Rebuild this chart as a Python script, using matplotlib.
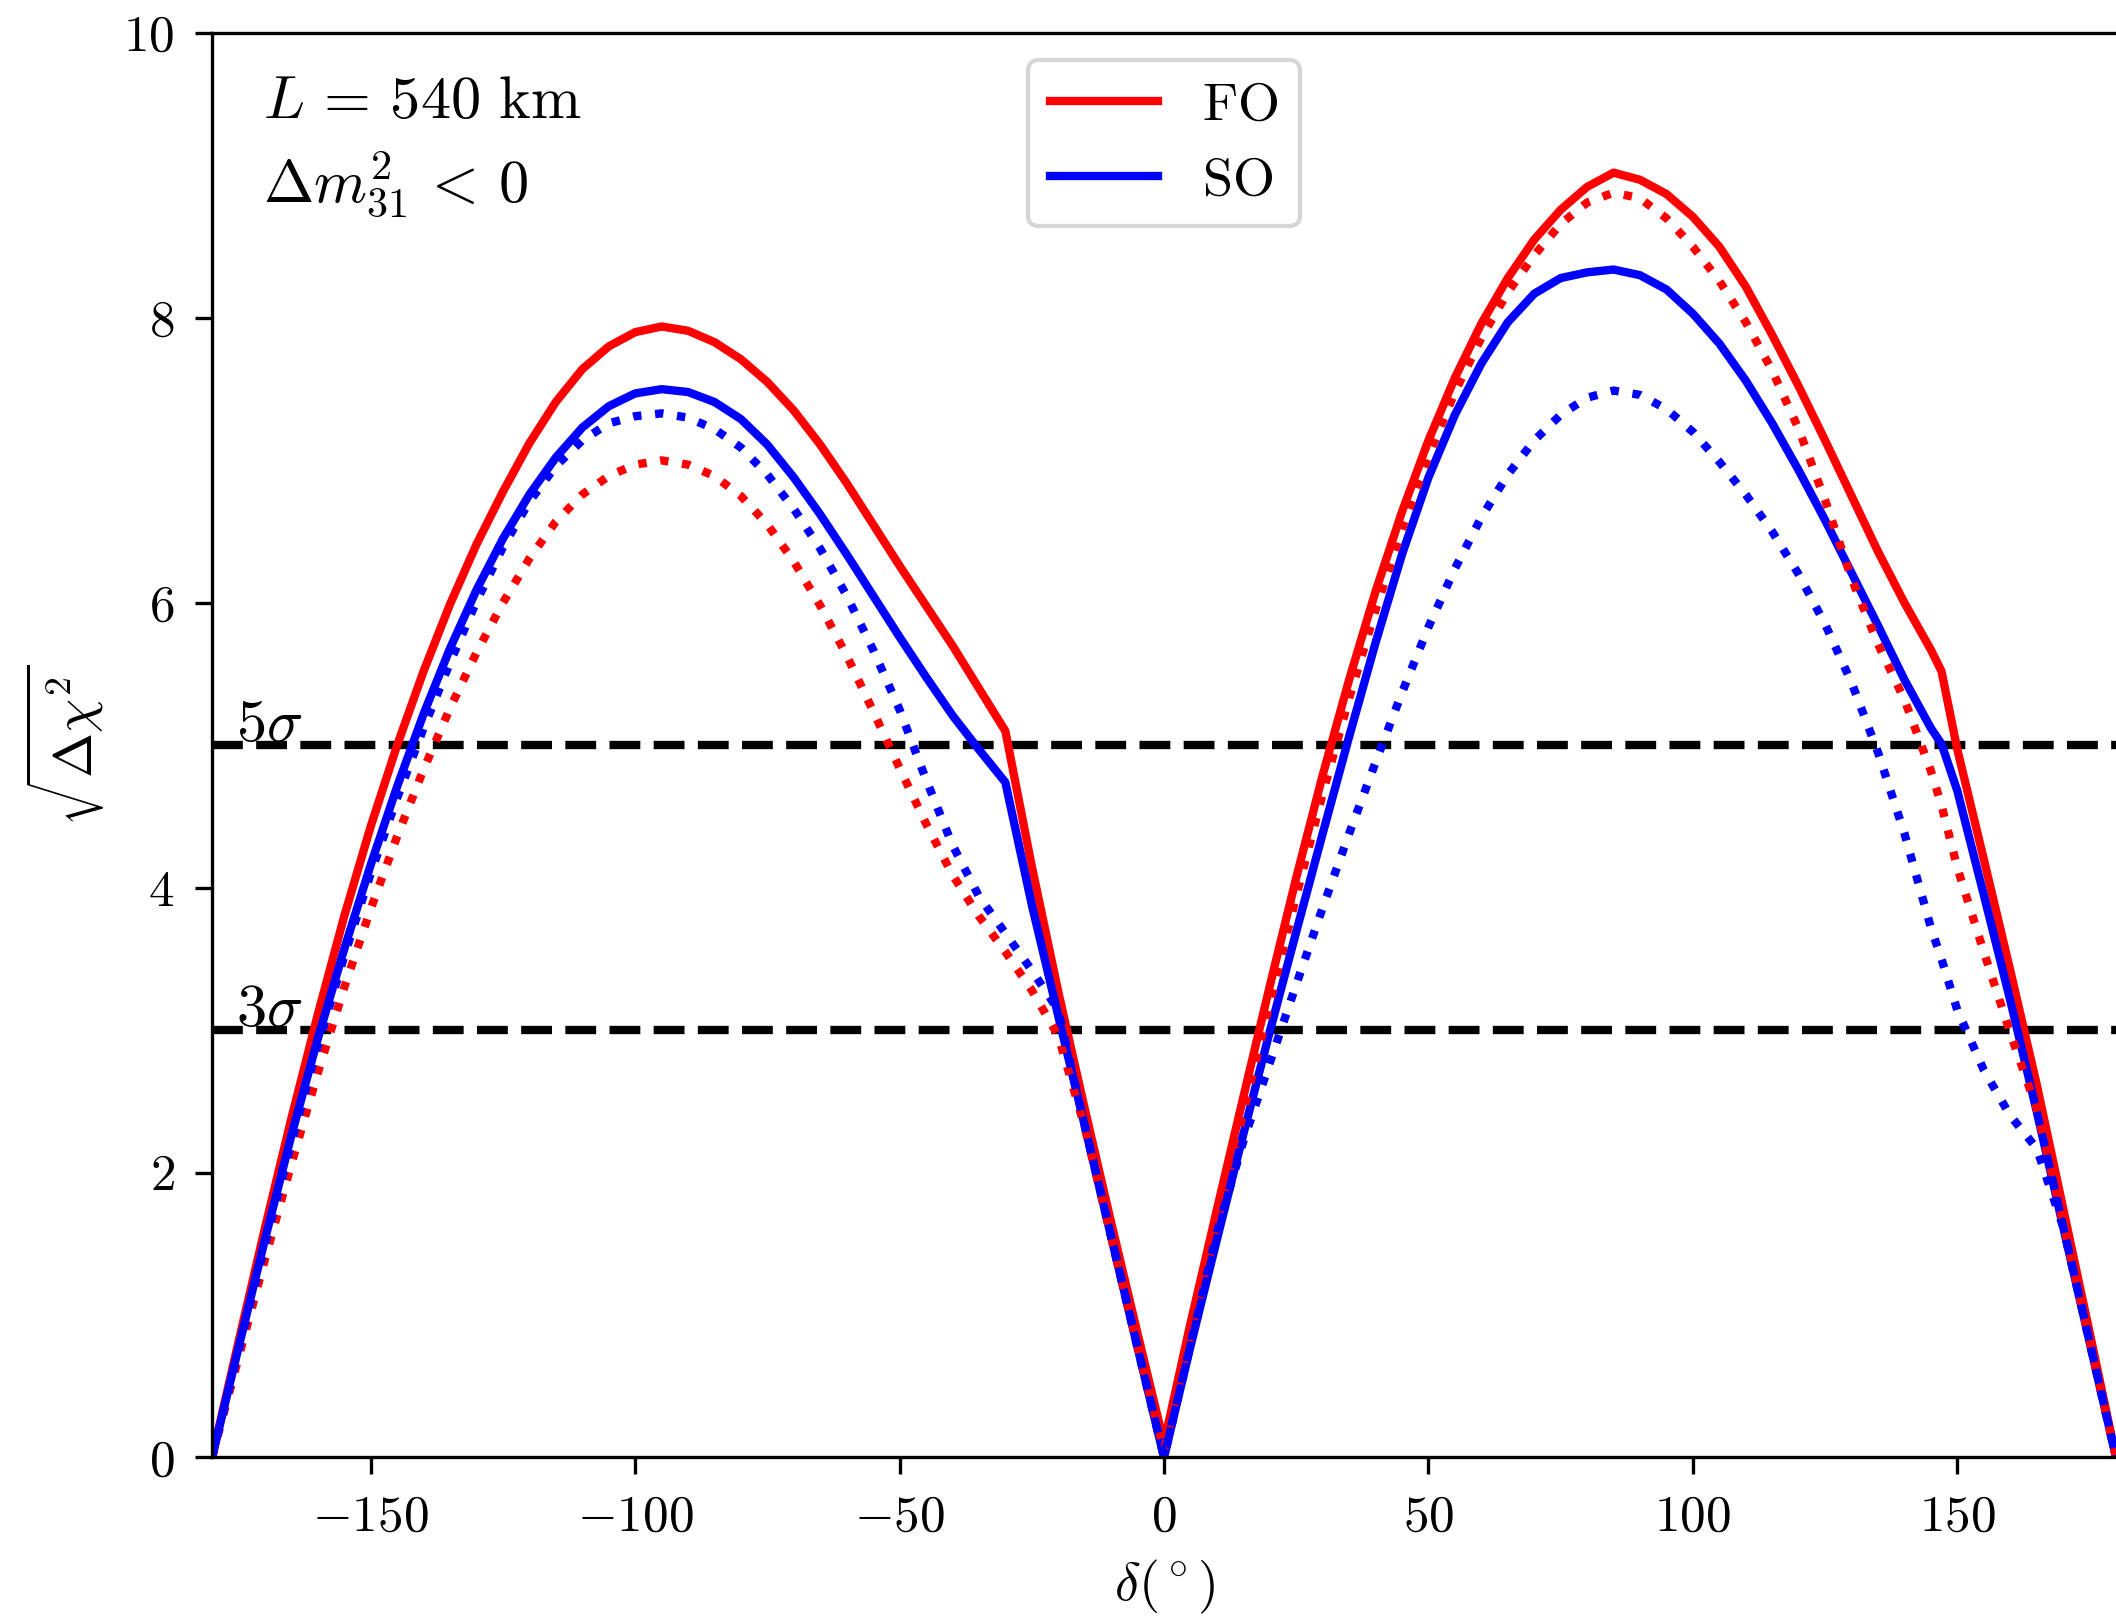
import matplotlib
matplotlib.use("Agg")
import matplotlib.pyplot as plt

plt.rcParams["mathtext.fontset"] = "cm"
plt.rcParams["font.family"] = ["serif"]
plt.rcParams["font.serif"] = ["cmr10", "DejaVu Serif"]

# delta_CP grid (degrees)
delta = [-180, -175, -170, -165, -160, -155, -150, -145, -140, -135,
         -130, -125, -120, -115, -110, -105, -100, -95, -90, -85,
         -80, -75, -70, -65, -60, -55, -50, -45, -40, -35,
         -30, -25, -20, -15, -10, -5, 0,
         5, 10, 15, 20, 25, 30, 35, 40, 45, 50,
         55, 60, 65, 70, 75, 80, 85, 90, 95, 100,
         105, 110, 115, 120, 125, 130, 135, 140, 145, 147,
         150, 155, 160, 165, 170, 175, 180]

# sqrt(delta chi^2), solid curves
fo_solid = [0, 0.81, 1.61, 2.38, 3.11, 3.80, 4.43, 5.00, 5.52, 5.99,
            6.41, 6.78, 7.12, 7.41, 7.64, 7.80, 7.90, 7.94, 7.91, 7.83,
            7.71, 7.55, 7.35, 7.11, 6.84, 6.55, 6.26, 5.98, 5.70, 5.40,
            5.10, 4.15, 3.27, 2.45, 1.65, 0.87, 0.10,
            0.94, 1.74, 2.53, 3.31, 4.07, 4.79, 5.46, 6.08, 6.64, 7.14,
            7.58, 7.96, 8.28, 8.55, 8.76, 8.92, 9.02, 8.97, 8.87, 8.71,
            8.50, 8.22, 7.88, 7.52, 7.14, 6.75, 6.36, 6.00, 5.67, 5.52,
            4.97, 4.20, 3.42, 2.62, 1.75, 0.88, 0.0]

so_solid = [0, 0.77, 1.53, 2.26, 2.94, 3.57, 4.16, 4.71, 5.22, 5.68,
            6.09, 6.45, 6.76, 7.02, 7.23, 7.38, 7.47, 7.50, 7.48, 7.41,
            7.29, 7.11, 6.88, 6.62, 6.34, 6.05, 5.76, 5.48, 5.21, 4.97,
            4.74, 3.88, 3.10, 2.33, 1.55, 0.77, 0.0,
            0.78, 1.53, 2.27, 2.99, 3.69, 4.38, 5.06, 5.72, 6.34, 6.88,
            7.32, 7.68, 7.97, 8.17, 8.28, 8.32, 8.34, 8.30, 8.20, 8.03,
            7.82, 7.56, 7.26, 6.93, 6.58, 6.21, 5.84, 5.46, 5.12, 5.01,
            4.68, 3.95, 3.21, 2.43, 1.62, 0.81, 0.0]

# dotted curves
fo_dotted = [0, 0.70, 1.39, 2.06, 2.70, 3.30, 3.85, 4.36, 4.83, 5.26,
             5.65, 6.00, 6.31, 6.57, 6.76, 6.89, 6.97, 7.00, 6.97, 6.89,
             6.75, 6.55, 6.29, 5.98, 5.63, 5.24, 4.84, 4.45, 4.09, 3.80,
             3.55, 3.28, 2.96, 2.32, 1.55, 0.78, 0.05,
             0.86, 1.64, 2.42, 3.19, 3.94, 4.66, 5.33, 5.95, 6.52, 7.03,
             7.48, 7.86, 8.18, 8.44, 8.66, 8.81, 8.88, 8.84, 8.70, 8.50,
             8.26, 7.97, 7.63, 7.22, 6.72, 6.17, 5.71, 5.32, 4.82, 4.58,
             4.14, 3.55, 2.98, 2.45, 1.65, 0.82, 0.0]

so_dotted = [0, 0.75, 1.49, 2.21, 2.89, 3.52, 4.10, 4.63, 5.12, 5.58,
             6.01, 6.39, 6.71, 6.96, 7.14, 7.26, 7.31, 7.33, 7.30, 7.22,
             7.09, 6.90, 6.66, 6.38, 6.05, 5.67, 5.25, 4.76, 4.30, 3.94,
             3.68, 3.42, 3.14, 2.33, 1.55, 0.77, 0.0,
             0.79, 1.58, 2.22, 2.77, 3.32, 3.86, 4.38, 4.88, 5.37, 5.83,
             6.24, 6.60, 6.90, 7.14, 7.32, 7.44, 7.49, 7.46, 7.36, 7.20,
             6.99, 6.76, 6.50, 6.20, 5.85, 5.44, 4.95, 4.38, 3.72, 3.50,
             3.14, 2.72, 2.40, 2.17, 1.62, 0.81, 0.0]

sigma_levels = [3, 5]
xticks = [-150, -100, -50, 0, 50, 100, 150]
yticks = [0, 2, 4, 6, 8, 10]

fig = plt.figure(figsize=(2116 / 300, 1621 / 300), dpi=300)
ax = fig.add_axes([0.1002, 0.1009, 0.8998, 0.8787])

for s in sigma_levels:
    ax.axhline(s, color="black", ls="--", lw=2, zorder=1)
    ax.text(-175.5, s + 0.03, r"$%d\sigma$" % s, fontsize=14.5,
            ha="left", va="baseline")

ax.plot(delta, fo_solid, color="red", lw=2, label=r"$\mathrm{FO}$")
ax.plot(delta, so_solid, color="blue", lw=2, label=r"$\mathrm{SO}$")
ax.plot(delta, fo_dotted, color="red", lw=2, ls=":")
ax.plot(delta, so_dotted, color="blue", lw=2, ls=":")

ax.text(0.027, 0.9407, r"$L\,=\,540\ \mathrm{km}$", transform=ax.transAxes,
        fontsize=14.5, ha="left", va="baseline")
ax.text(0.027, 0.8817, r"$\Delta m^2_{31}\,<\,0$", transform=ax.transAxes,
        fontsize=14.5, ha="left", va="baseline")

ax.set_xlim(-180, 180)
ax.set_ylim(0, 10)
ax.set_xticks(xticks)
ax.set_xticklabels([r"$%d$" % t for t in xticks])
ax.set_yticks(yticks)
ax.set_yticklabels([r"$%d$" % t for t in yticks])
ax.tick_params(labelsize=12.3, length=4, pad=5)
ax.spines["right"].set_visible(False)

ax.set_xlabel(r"$\delta(^\circ)$", fontsize=13)
ax.set_ylabel(r"$\sqrt{\Delta\chi^2}$", fontsize=13)

ax.legend(loc="upper center", fontsize=13)

fig.savefig("out.png", dpi=300)
